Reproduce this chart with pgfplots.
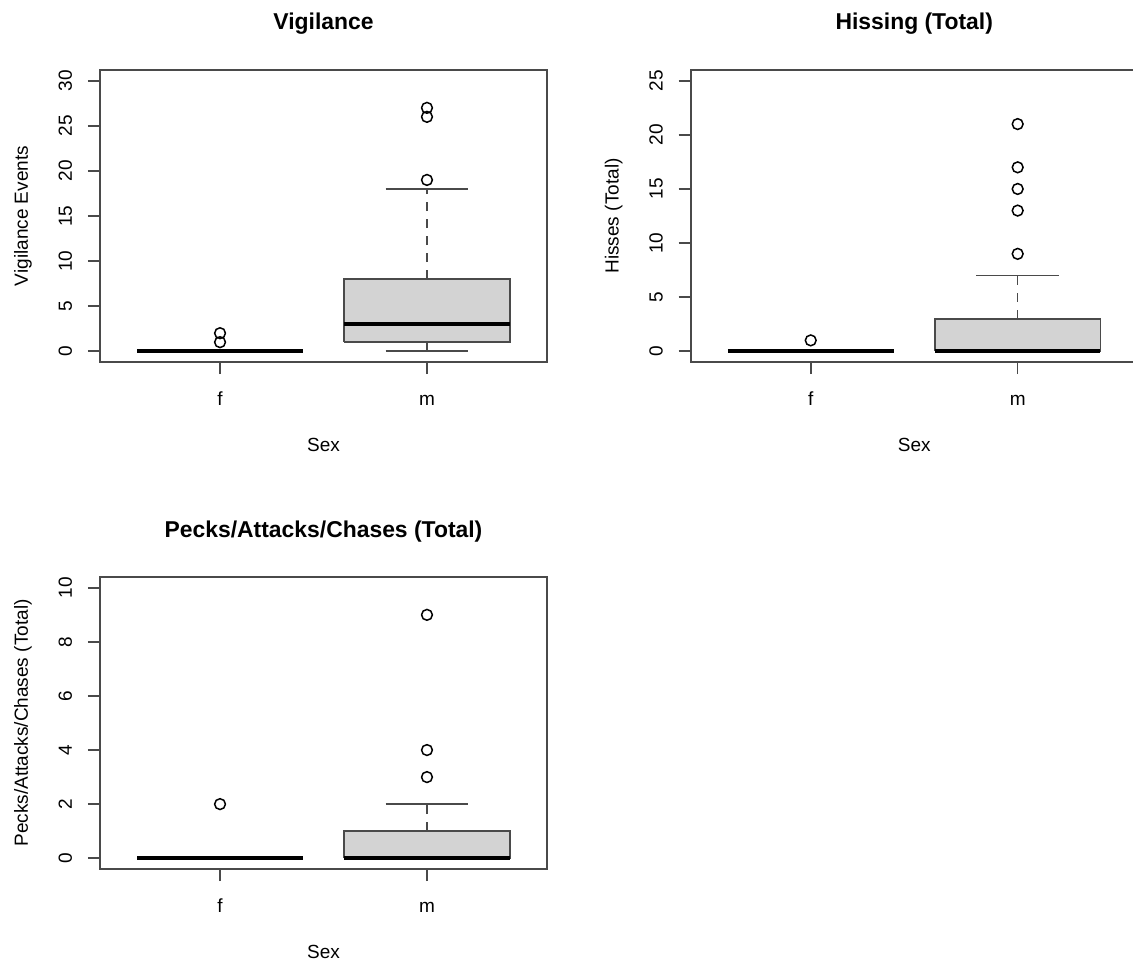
\documentclass[border=0pt]{standalone}
\usepackage{fontspec}
\setmainfont{Liberation Sans}
\usepackage{pgfplots}
\pgfplotsset{compat=1.18}

\definecolor{boxfill}{HTML}{D3D3D3}
\definecolor{rline}{HTML}{4A4A4A}

\pgfplotsset{
  rpanel/.style={
    scale only axis, width=223.5pt, height=146pt,
    xmin=0.42, xmax=2.58,
    clip=false,
    axis line style={rline, line width=0.8pt},
    xtick={1,2}, xticklabels={f,m},
    xtick pos=left, ytick pos=left,
    tick align=outside, major tick length=6pt,
    major tick style={rline, line width=0.8pt},
    tick label style={font=\fontsize{9.5}{11}\selectfont},
    /pgf/number format/assume math mode=true,
    yticklabel style={rotate=90, anchor=base},
    xticklabel style={anchor=base},
    yticklabel shift=8pt,
    xticklabel shift=15.5pt,
    every axis title/.style={at={(axis description cs:0.5,1.137)}, anchor=base,
      font=\bfseries\fontsize{11.45}{13}\selectfont},
    every axis x label/.style={at={(axis description cs:0.5,-0.305)}, anchor=base,
      font=\fontsize{9.5}{11}\selectfont},
    every axis y label/.style={at={(axis description cs:-0.1611,0.5)}, rotate=90,
      anchor=base, font=\fontsize{9.5}{11}\selectfont},
    xlabel={Sex},
  },
  boxbody/.style={draw=rline, fill=boxfill, line width=0.8pt},
  median/.style={black, line width=2.2pt, line cap=butt},
  whisker/.style={rline, line width=0.8pt, dash pattern=on 4.5pt off 4pt},
  staple/.style={rline, line width=0.8pt},
  outlier/.style={only marks, mark=o, mark size=2.7pt,
    mark options={black, line width=0.75pt}},
}

\begin{document}
\begin{tikzpicture}
\path[use as bounding box] (0,0) rectangle (566.5pt,480pt);

% ---------------- Vigilance ----------------
\begin{axis}[rpanel, at={(50pt,445pt)}, anchor=north west,
  ymin=-1.2, ymax=31.2, ytick={0,5,...,30},
  title={Vigilance}, ylabel={Vigilance Events}]
  % f: every value 0
  \addplot[median] coordinates {(0.6,0) (1.4,0)};
  \addplot[outlier] coordinates {(1,1) (1,2)};
  % m: whiskers 0 / 18, quartiles 1 / 8, median 3
  \addplot[whisker] coordinates {(2,8) (2,18)};
  \addplot[whisker] coordinates {(2,1) (2,0)};
  \addplot[staple] coordinates {(1.8,18) (2.2,18)};
  \addplot[staple] coordinates {(1.8,0) (2.2,0)};
  \addplot[boxbody] coordinates {(1.6,1) (2.4,1) (2.4,8) (1.6,8) (1.6,1)};
  \addplot[median] coordinates {(1.6,3) (2.4,3)};
  \addplot[outlier] coordinates {(2,19) (2,26) (2,27)};
\end{axis}

% ---------------- Hissing ----------------
\begin{axis}[rpanel, at={(345.35pt,445pt)}, anchor=north west,
  ymin=-1, ymax=26, ytick={0,5,...,25},
  title={Hissing (Total)}, ylabel={Hisses (Total)}]
  \addplot[median] coordinates {(0.6,0) (1.4,0)};
  \addplot[outlier] coordinates {(1,1)};
  % m: whiskers 0 / 7, quartiles 0 / 3, median 0
  \addplot[whisker] coordinates {(2,3) (2,7)};
  \addplot[staple] coordinates {(1.8,7) (2.2,7)};
  \addplot[boxbody] coordinates {(1.6,0) (2.4,0) (2.4,3) (1.6,3) (1.6,0)};
  \addplot[median] coordinates {(1.6,0) (2.4,0)};
  \addplot[outlier] coordinates {(2,9) (2,13) (2,15) (2,17) (2,21)};
\end{axis}

% ---------------- Pecks/Attacks/Chases ----------------
\begin{axis}[rpanel, at={(50pt,191.5pt)}, anchor=north west,
  ymin=-0.4, ymax=10.4, ytick={0,2,...,10},
  title={Pecks/Attacks/Chases (Total)}, ylabel={Pecks/Attacks/Chases (Total)}]
  \addplot[median] coordinates {(0.6,0) (1.4,0)};
  \addplot[outlier] coordinates {(1,2)};
  % m: whiskers 0 / 2, quartiles 0 / 1, median 0
  \addplot[whisker] coordinates {(2,1) (2,2)};
  \addplot[staple] coordinates {(1.8,2) (2.2,2)};
  \addplot[boxbody] coordinates {(1.6,0) (2.4,0) (2.4,1) (1.6,1) (1.6,0)};
  \addplot[median] coordinates {(1.6,0) (2.4,0)};
  \addplot[outlier] coordinates {(2,3) (2,4) (2,9)};
\end{axis}
\end{tikzpicture}
\end{document}
